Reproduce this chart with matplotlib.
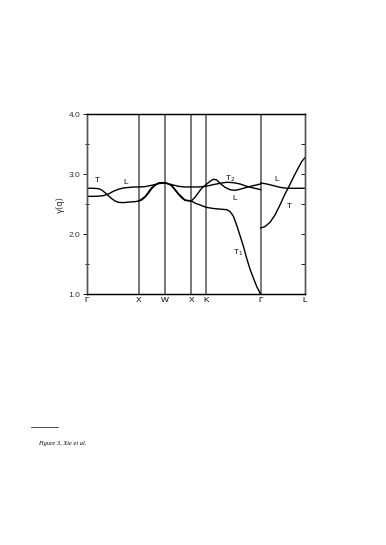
import matplotlib
matplotlib.use("Agg")
import matplotlib.pyplot as plt
from matplotlib.lines import Line2D

# symmetry points along the path (x in path-length units)
sym_labels = ["Γ", "X", "W", "X", "K", "Γ", "L"]
sym_pos = [0, 52.3, 78.6, 104.6, 119.3, 174.0, 218.3]

# Branch A: T (Γ-X), lower (X-W-X), T1 (X-K-Γ)
a_x = [0, 6.7, 11.7, 15, 18.3, 21.7, 25, 28.3, 31.7, 36.7, 43.3, 48.3, 52.3,
       55, 58.3, 61.7, 65, 68.3, 71.7, 75, 78.6,
       81.7, 85, 88.3, 91.7, 95, 98.3, 101.7, 104.6,
       108.3, 113.3, 119.3, 126.7, 133.3, 140, 143.3, 146.7, 150, 153.3,
       156.7, 160, 163.3, 166.7, 170, 174]
a_y = [2.767, 2.767, 2.761, 2.739, 2.694, 2.644, 2.594, 2.556, 2.533, 2.528, 2.539, 2.544, 2.556,
       2.572, 2.617, 2.683, 2.761, 2.817, 2.850, 2.861, 2.856,
       2.844, 2.806, 2.739, 2.667, 2.606, 2.567, 2.556, 2.556,
       2.52, 2.49, 2.45, 2.43, 2.42, 2.41, 2.38, 2.30, 2.15, 1.98,
       1.80, 1.60, 1.42, 1.27, 1.13, 1.0]

# Branch B: L (Γ-X), upper (X-W-X-K), T2 (K-Γ)
b_x = [0, 10, 16.7, 21.7, 26.7, 31.7, 36.7, 43.3, 48.3, 52.3,
       58.3, 65, 71.7, 78.6,
       85, 91.7, 98.3, 104.6,
       111.7, 119.3,
       126.7, 133.3, 140, 146.7, 153.3, 160, 166.7, 174]
b_y = [2.633, 2.633, 2.644, 2.672, 2.717, 2.75, 2.772, 2.783, 2.789, 2.789,
       2.794, 2.817, 2.844, 2.856,
       2.828, 2.8, 2.789, 2.789,
       2.789, 2.8,
       2.828, 2.85, 2.867, 2.861, 2.839, 2.8, 2.772, 2.744]

# Branch C: second T (X-W-X), rising to L (X-K-Γ)
c_x = [52.3, 58.3, 65, 71.7, 78.6,
       85, 91.7, 98.3, 104.6,
       108.3, 111.7, 115, 119.3, 123.3, 126.7, 130, 133.3, 138.3, 143.3,
       148.3, 153.3, 160, 166.7, 174]
c_y = [2.556, 2.628, 2.778, 2.856, 2.856,
       2.817, 2.678, 2.572, 2.556,
       2.617, 2.694, 2.767, 2.828, 2.883, 2.917, 2.906, 2.85, 2.783, 2.744,
       2.733, 2.75, 2.783, 2.811, 2.839]

# Γ-L branches
gl_x = [174, 180, 186.7, 193.3, 200, 206.7, 213.3, 218.3]
gl_L = [2.856, 2.839, 2.811, 2.783, 2.767, 2.767, 2.767, 2.767]
gt_x = [174, 178.3, 183.3, 188.3, 193.3, 198.3, 201.7, 206.7, 211.7, 215, 218.3]
gt_T = [2.106, 2.128, 2.2, 2.322, 2.489, 2.672, 2.778, 2.95, 3.111, 3.211, 3.278]

# branch labels: (text, x, y)
labels = [("T", 10.6, 2.89), ("L", 39.3, 2.87), ("T$_2$", 143.3, 2.93),
          ("L", 190.0, 2.91), ("L", 148.3, 2.59), ("T", 202.6, 2.46),
          ("T$_1$", 151.0, 1.70)]

plt.rcParams['font.family'] = ['Liberation Sans', 'DejaVu Sans']

fig = plt.figure(figsize=(3.86, 5.45), dpi=100)
ax = fig.add_axes([86.7 / 386, 1 - 294.3 / 545, 218.3 / 386, 180 / 545])

lw = 1.0
for xs, ys in [(a_x, a_y), (b_x, b_y), (c_x, c_y), (gl_x, gl_L), (gt_x, gt_T)]:
    ax.plot(xs, ys, color='black', lw=lw, solid_joinstyle='round')

for p in sym_pos[1:-1]:
    ax.axvline(p, color='#555555', lw=1.1, zorder=0)

for t, x, y in labels:
    ax.text(x, y, t, fontsize=6, ha='center', va='center', color='#111111')

ax.set_xlim(sym_pos[0], sym_pos[-1])
ax.set_ylim(1.0, 4.0)
ax.set_xticks(sym_pos)
ax.set_xticklabels(sym_labels, fontsize=6)
ax.tick_params(axis='x', length=0, pad=2)

ax.set_yticks([1.0, 2.0, 3.0, 4.0])
ax.set_yticklabels(["1.0", "2.0", "3.0", "4.0"], fontsize=6, color='#333333')
ax.set_yticks([1.5, 2.5, 3.5], minor=True)
ax.tick_params(axis='y', which='major', direction='out', length=3, width=0.6, pad=1.5)
ax.tick_params(axis='y', which='minor', direction='inout', length=3, width=0.6)

# right-side inward ticks
ax2 = ax.twinx()
ax2.set_ylim(1.0, 4.0)
ax2.set_yticks([1.0, 2.0, 3.0, 4.0])
ax2.set_yticks([1.5, 2.5, 3.5], minor=True)
ax2.tick_params(axis='y', which='both', direction='in', length=3, width=0.6, labelright=False)

for a in (ax, ax2):
    for s in ['left', 'right']:
        a.spines[s].set_color('#555555')
        a.spines[s].set_linewidth(1.0)
    for s in ['top', 'bottom']:
        a.spines[s].set_linewidth(0.9)

ax.set_ylabel("γ(q)", fontsize=6, color='#333333', family=['DejaVu Sans'])
ax.yaxis.set_label_coords(-0.10, 0.5)

# footnote
fig.add_artist(Line2D([31 / 386, 58 / 386], [1 - 427.3 / 545, 1 - 427.3 / 545],
                      color='black', lw=0.5))
fig.text(38 / 386, 1 - 443.3 / 545, "Figure 3, Xie et al.", fontsize=4.6,
         family='Liberation Serif', style='italic', va='center', ha='left')

fig.savefig("out.png", dpi=100)
